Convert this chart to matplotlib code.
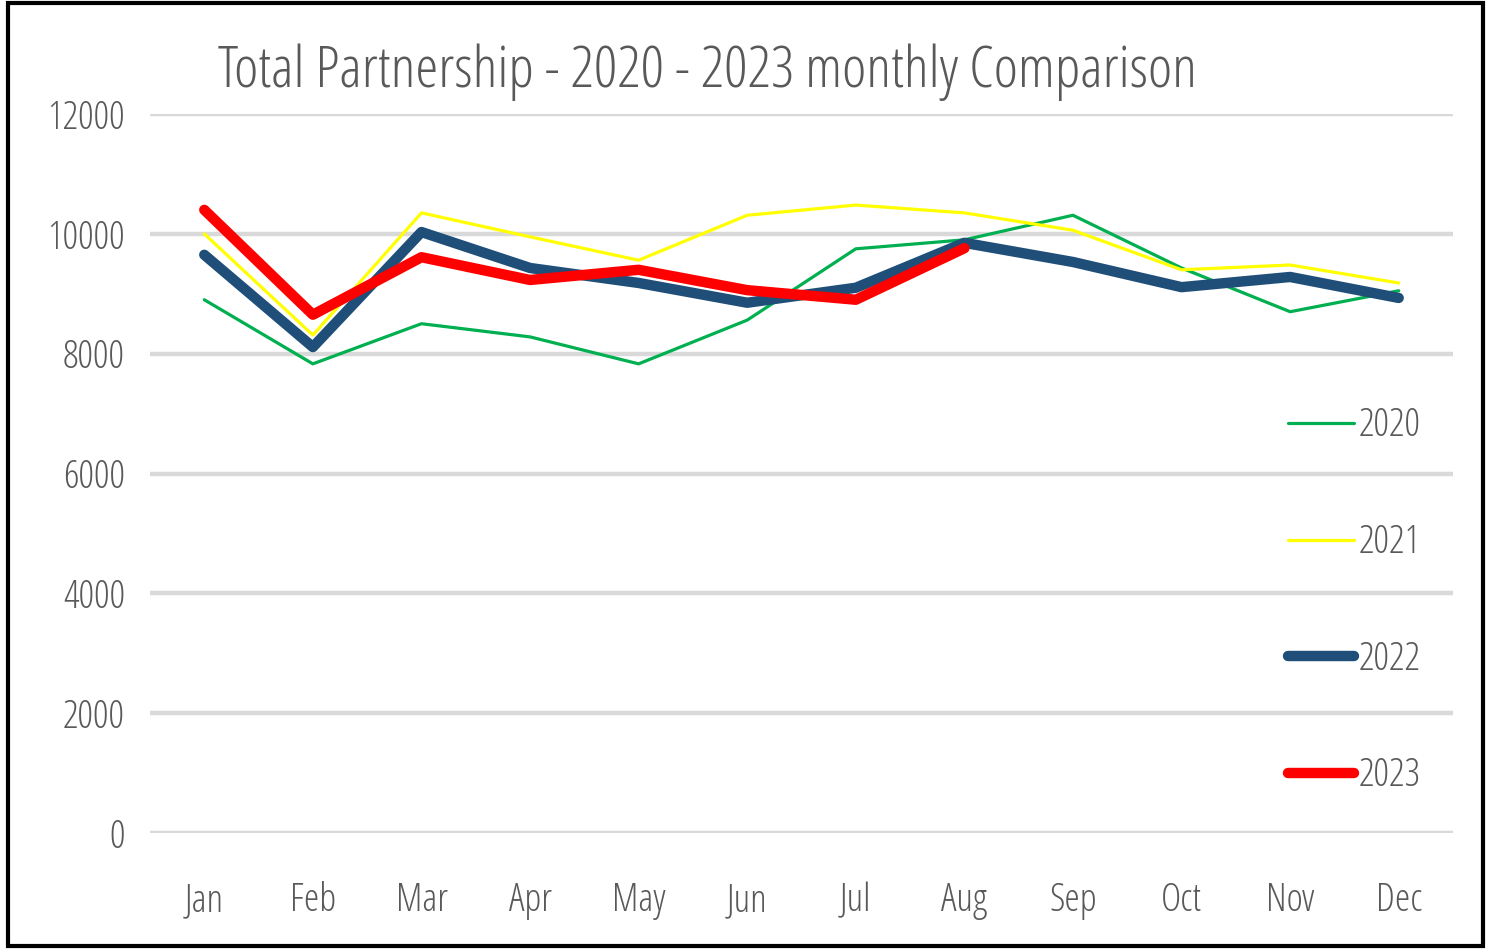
import matplotlib
matplotlib.use("Agg")
import matplotlib.pyplot as plt
from matplotlib.patches import Rectangle
from matplotlib.font_manager import FontProperties

months = ["Jan", "Feb", "Mar", "Apr", "May", "Jun", "Jul", "Aug", "Sep", "Oct", "Nov", "Dec"]
y2020 = [8900, 7830, 8500, 8280, 7830, 8560, 9750, 9900, 10310, 9430, 8700, 9050]
y2021 = [10000, 8310, 10350, 9950, 9560, 10310, 10480, 10350, 10060, 9400, 9480, 9180]
y2022 = [9650, 8110, 10030, 9430, 9180, 8850, 9100, 9850, 9530, 9110, 9280, 8930]
y2023 = [10400, 8650, 9610, 9230, 9400, 9060, 8900, 9760]
yticks = [0, 2000, 4000, 6000, 8000, 10000, 12000]
title = "Total Partnership - 2020 - 2023 monthly Comparison"

TXT = "#595959"

def fp(size):
    return FontProperties(family=["Open Sans", "DejaVu Sans"], stretch="condensed",
                          weight=300, size=size)

fig = plt.figure(figsize=(14.91, 9.49), dpi=100)
ax = fig.add_axes([150/1491, 1 - 833/949, (1453-150)/1491, (833-114)/949])

x = list(range(len(months)))
ax.plot(x, y2020, color="#00b050", lw=2.3, label="2020", solid_capstyle="round")
ax.plot(x, y2021, color="#ffff00", lw=2.3, label="2021", solid_capstyle="round")
ax.plot(x, y2022, color="#1f4e79", lw=7.5, label="2022", solid_capstyle="round", solid_joinstyle="round")
ax.plot(x[:len(y2023)], y2023, color="#ff0000", lw=7.5, label="2023", solid_capstyle="round", solid_joinstyle="round")

ax.set_xlim(-0.5, 11.5)
ax.set_ylim(0, 12000)
ax.set_yticks(yticks)
ax.set_yticklabels([str(v) for v in yticks], fontproperties=fp(28), color=TXT)
ax.set_xticks(x)
ax.set_xticklabels(months, fontproperties=fp(28), color=TXT)
ax.grid(axis="y", color="#d9d9d9", lw=3.2)
ax.set_axisbelow(True)
for s in ax.spines.values():
    s.set_visible(False)
ax.tick_params(axis="y", length=0, pad=18)
ax.tick_params(axis="x", length=0, pad=35)

fig.text(218/1491, 1 - 72/949, title, fontproperties=fp(42), color=TXT, va="center", ha="left")

leg = ax.legend(loc="upper left", bbox_to_anchor=(1288/1491, 1 - 407/949),
                bbox_transform=fig.transFigure, frameon=False, prop=fp(28),
                labelcolor=TXT, handlelength=1.7, handletextpad=0.12,
                labelspacing=2.01, borderpad=0, borderaxespad=0)

fig.add_artist(Rectangle((8/1491, 3/949), (1483-8)/1491, (946-3)/949,
                         transform=fig.transFigure, fill=False, ec="black", lw=3))

fig.savefig("out.png", dpi=100)
